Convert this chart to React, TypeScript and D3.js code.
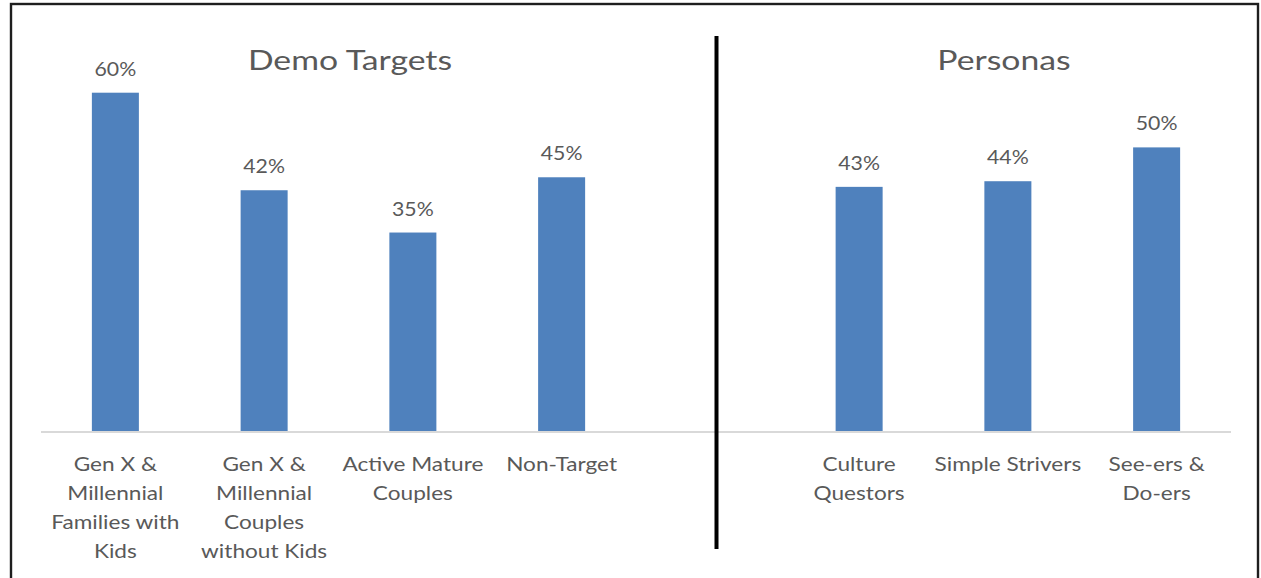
import * as d3 from 'd3';

// values (bar heights) and the printed labels
const demoCategories = ['Gen X & Millennial Families with Kids', 'Gen X & Millennial Couples without Kids', 'Active Mature Couples', 'Non-Target'];
const demoValues = [0.6, 0.427, 0.352, 0.45];
const demoLabels = ['60%', '42%', '35%', '45%'];

const personaCategories = ['Culture Questors', 'Simple Strivers', 'See-ers & Do-ers'];
const personaValues = [0.433, 0.443, 0.503];
const personaLabels = ['43%', '44%', '50%'];

// how the category names wrap under the axis
const tickLines: Record<string, string[]> = {
  'Gen X & Millennial Families with Kids': ['Gen X &', 'Millennial', 'Families with', 'Kids'],
  'Gen X & Millennial Couples without Kids': ['Gen X &', 'Millennial', 'Couples', 'without Kids'],
  'Active Mature Couples': ['Active Mature', 'Couples'],
  'Non-Target': ['Non-Target'],
  'Culture Questors': ['Culture', 'Questors'],
  'Simple Strivers': ['Simple Strivers'],
  'See-ers & Do-ers': ['See-ers &', 'Do-ers'],
};

const GAP = '__gap__';
const W = 1261;
const H = 578;
const FONT = 'Lato, "Open Sans", sans-serif';
const TEXT = '#595959';
const BAR = '#4f81bd';

const rows = [
  ...demoCategories.map((c, i) => ({ cat: c, value: demoValues[i], label: demoLabels[i] })),
  ...personaCategories.map((c, i) => ({ cat: c, value: personaValues[i], label: personaLabels[i] })),
];

// the source picture is a bit stretched sideways, so the text is too
function Txt({ x, y, size, sx, children }: { x: number; y: number; size: number; sx: number; children: string }) {
  return (
    <text transform={`translate(${x},${y}) scale(${sx},1)`} textAnchor="middle" fontSize={size} fill={TEXT}>
      {children}
    </text>
  );
}

export default function App() {
  const x = d3
    .scaleBand()
    .domain([...demoCategories, GAP, ...personaCategories])
    .range([41, 1231])
    .paddingInner(0.684)
    .paddingOuter(0.342);

  const y = d3.scaleLinear().domain([0, 0.6]).range([431, 92.7]);
  const cx = (c: string) => x(c)! + x.bandwidth() / 2;

  return (
    <svg width={W} height={H} style={{ position: 'absolute', left: 0, top: 0, background: '#fff' }} fontFamily={FONT}>
      <rect x={11} y={4} width={1247} height={640} fill="#fff" stroke="#1e1e1e" strokeWidth={2.4} />

      <Txt x={350} y={70} size={27} sx={1.25}>Demo Targets</Txt>
      <Txt x={1004} y={70} size={27} sx={1.25}>Personas</Txt>

      {rows.map((d) => (
        <g key={d.cat}>
          <rect x={x(d.cat)!} y={y(d.value)} width={x.bandwidth()} height={y(0) - y(d.value)} fill={BAR} />
          <Txt x={cx(d.cat)} y={y(d.value) - 17} size={18.5} sx={1.15}>{d.label}</Txt>
        </g>
      ))}

      <line x1={41} x2={1231} y1={y(0) + 1} y2={y(0) + 1} stroke="#d9d9d9" strokeWidth={2} />

      {rows.map((d) =>
        tickLines[d.cat].map((line, j) => (
          <Txt key={d.cat + j} x={cx(d.cat)} y={471 + j * 29} size={19} sx={1.19}>
            {line}
          </Txt>
        ))
      )}

      <line x1={716.5} x2={716.5} y1={36} y2={549} stroke="#000" strokeWidth={4} />
    </svg>
  );
}
